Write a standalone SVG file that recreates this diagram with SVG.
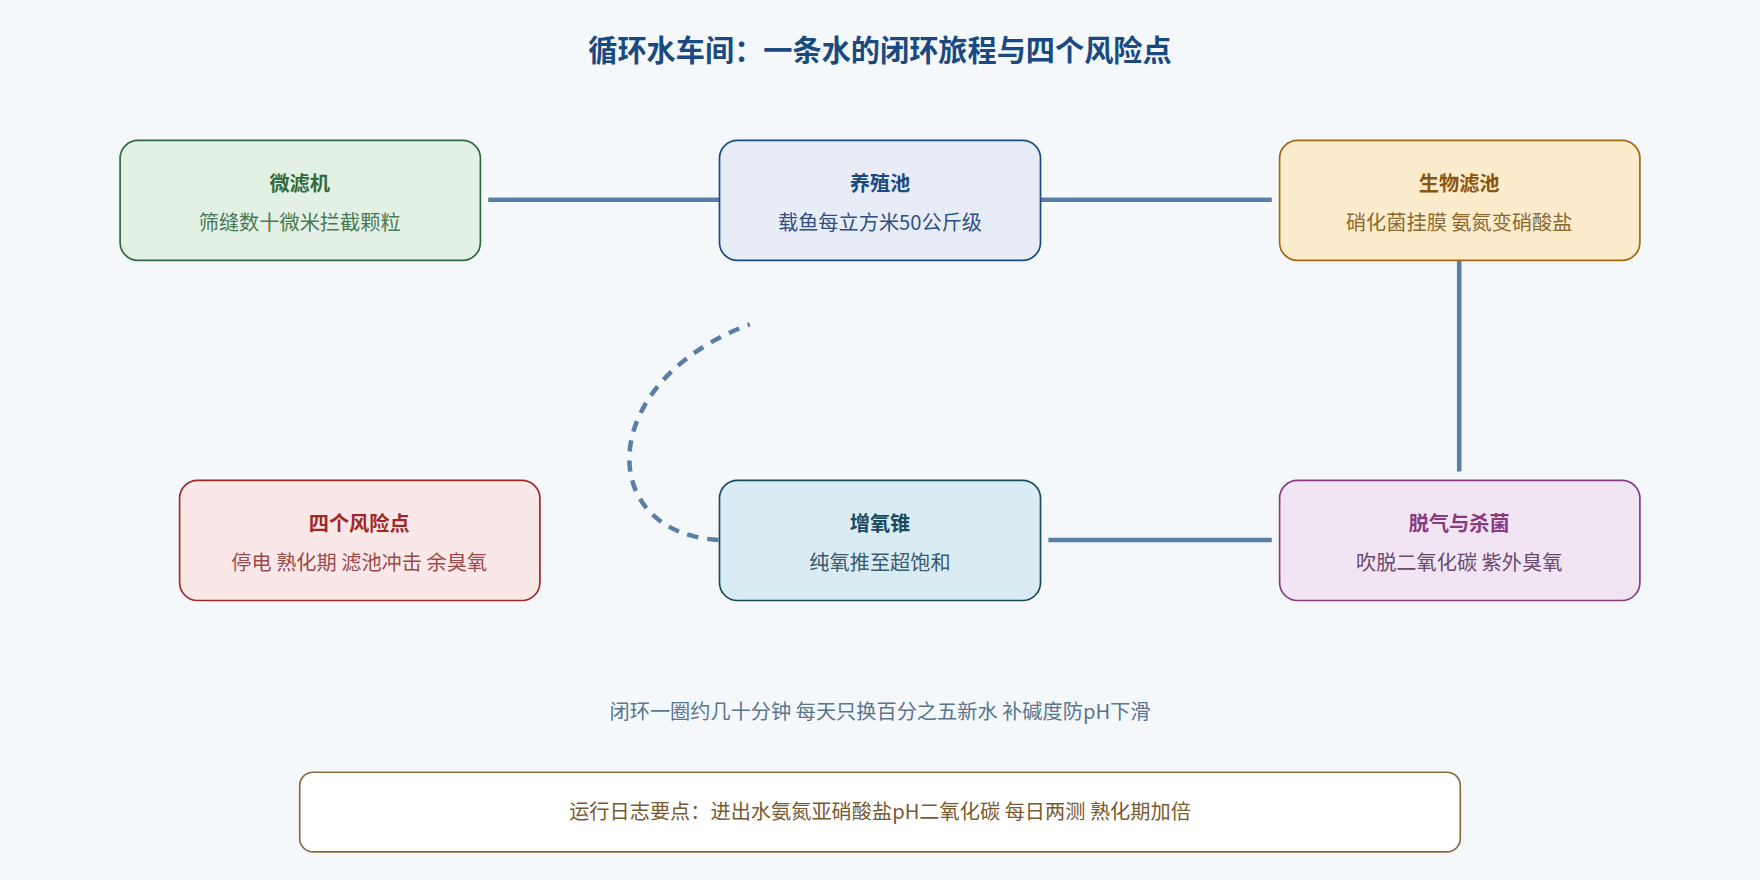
<svg xmlns="http://www.w3.org/2000/svg" width="1760" height="880" viewBox="0 0 1760 880">
<style>
text{font-family:"Noto Sans CJK SC","Liberation Sans",sans-serif;text-anchor:middle}
.t{font-size:18px;font-weight:bold}
.s{font-size:18px}
.c{stroke:#5a7ea6;stroke-width:4;fill:none}
</style>
<rect width="1760" height="880" fill="#f4f8fb"/>
<g transform="scale(1.12245)">
<text x="784" y="54" style="font-size:26px;font-weight:bold;fill:#1a4a80">循环水车间：一条水的闭环旅程与四个风险点</text>
<g id="connectors">
<line class="c" x1="435" y1="178" x2="641" y2="178"/>
<line class="c" x1="927" y1="178" x2="1133" y2="178"/>
<line class="c" x1="1300" y1="232" x2="1300" y2="420"/>
<line class="c" x1="934" y1="481" x2="1133" y2="481"/>
<path class="c" stroke-dasharray="10,8" d="M640,481 C530,475 530,340 668,289"/>
</g>
<g id="n1"><rect x="107" y="125" width="321" height="107" rx="16" fill="#e3f0e4" stroke="#2e6b3e" stroke-width="1.5"/>
<text class="t" x="267" y="170" fill="#2e6b3e">微滤机</text><text class="s" x="267" y="205" fill="#4a7a55">筛缝数十微米拦截颗粒</text></g>
<g id="n2"><rect x="641" y="125" width="286" height="107" rx="16" fill="#e8ecf7" stroke="#1a4a80" stroke-width="1.5"/>
<text class="t" x="784" y="170" fill="#1a4a80">养殖池</text><text class="s" x="784" y="205" fill="#2e4f80">载鱼每立方米50公斤级</text></g>
<g id="n3"><rect x="1140" y="125" width="321" height="107" rx="16" fill="#fdeccb" stroke="#a06a10" stroke-width="1.5"/>
<text class="t" x="1300" y="170" fill="#8a5510">生物滤池</text><text class="s" x="1300" y="205" fill="#8a6a30">硝化菌挂膜 氨氮变硝酸盐</text></g>
<g id="n4"><rect x="160" y="428" width="321" height="107" rx="16" fill="#fae8e8" stroke="#a02828" stroke-width="1.5"/>
<text class="t" x="320" y="473" fill="#a02828">四个风险点</text><text class="s" x="320" y="508" fill="#9a4a4a">停电 熟化期 滤池冲击 余臭氧</text></g>
<g id="n5"><rect x="641" y="428" width="286" height="107" rx="16" fill="#d9ecf3" stroke="#1a4a60" stroke-width="1.5"/>
<text class="t" x="784" y="473" fill="#1a4a60">增氧锥</text><text class="s" x="784" y="508" fill="#3a5a70">纯氧推至超饱和</text></g>
<g id="n6"><rect x="1140" y="428" width="321" height="107" rx="16" fill="#f1e4f3" stroke="#8a3a80" stroke-width="1.5"/>
<text class="t" x="1300" y="473" fill="#8a3a80">脱气与杀菌</text><text class="s" x="1300" y="508" fill="#6a4a6a">吹脱二氧化碳 紫外臭氧</text></g>
<text class="s" x="784" y="641" fill="#5a7590">闭环一圈约几十分钟 每天只换百分之五新水 补碱度防pH下滑</text>
<g id="log"><rect x="267" y="688" width="1034" height="71" rx="12" fill="#fff" stroke="#8a6a40" stroke-width="1.5"/>
<text class="s" x="784" y="730" fill="#7a5a30">运行日志要点：进出水氨氮亚硝酸盐pH二氧化碳 每日两测 熟化期加倍</text></g>
</g>
</svg>
